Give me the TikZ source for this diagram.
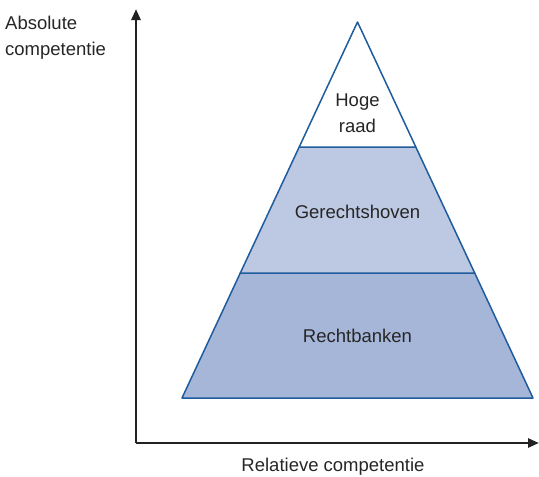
\documentclass[tikz,border=0pt]{standalone}
\usepackage{fontspec}
\setmainfont{Liberation Sans}
\usepackage{tikz}
\usetikzlibrary{
	positioning,
	arrows.meta
}
\definecolor{edgeblue}{HTML}{1F5C9E}
\definecolor{midband}{HTML}{BDC8E2}
\definecolor{lowband}{HTML}{A6B6D8}
\definecolor{axisgray}{HTML}{222222}
\tikzset{
	axis/.style={
		line width=2.6pt,
		draw=axisgray,
		-{Triangle[length=11pt,width=9pt]}
	},
	layer/.style={
		line width=1.5pt,
		draw=edgeblue,
		line join=round
	},
	label/.style={
		font=\fontsize{18.5}{26}\selectfont,
		text=black!85,
		align=center,
		inner sep=0pt
	}
}

\begin{document}
\begin{tikzpicture}[x=1pt,y=-1pt]
		\useasboundingbox (0,0) rectangle (539,477);
		\coordinate (origin) at (136,443);
		\coordinate (ytop)   at (136,9);
		\coordinate (xend)   at (539,443);
		\coordinate (apex)   at (357.5,22);
		\coordinate (bl)     at (182,398);
		\coordinate (br)     at (533,398);
		\coordinate (ml)     at (240.3,273);
		\coordinate (mr)     at (474.7,273);
		\coordinate (tl)     at (299.2,147);
		\coordinate (tr)     at (415.8,147);

		\filldraw[layer,fill=lowband] (bl) -- (br) -- (mr) -- (ml) -- cycle;
		\filldraw[layer,fill=midband] (ml) -- (mr) -- (tr) -- (tl) -- cycle;
		\filldraw[layer,fill=white] (tl) -- (tr) -- (apex) -- cycle;

		\draw[axis] (origin) -- (ytop);
		\draw[axis] (origin) -- (xend);

		\draw
			node[label] (hoge)   at (357.5,113) {Hoge\\raad}
			node[label] (hoven)  at (357.5,212) {Gerechtshoven}
			node[label] (banken) at (357.5,336) {Rechtbanken}
			node[label,align=left,anchor=north west] (abs) at (5,16) {Absolute\\competentie}
			node[label] (rel) at (333,467) {Relatieve competentie}
		;
	\end{tikzpicture}
\end{document}
